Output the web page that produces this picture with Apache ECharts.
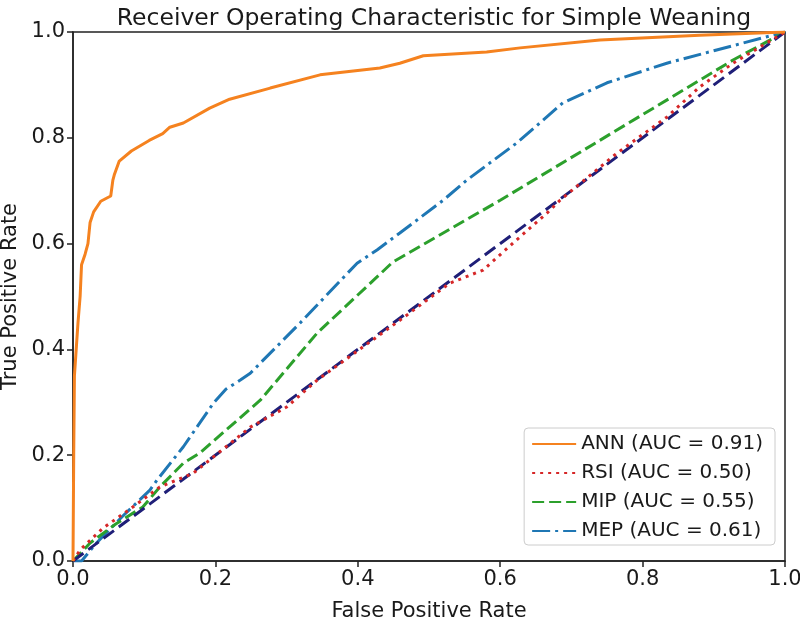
<!DOCTYPE html>
<html>
<head>
<meta charset="utf-8">
<script src="https://cdn.jsdelivr.net/npm/echarts@6/dist/echarts.min.js"></script>
<style>html,body{margin:0;padding:0;background:#fff}#c{width:800px;height:618px}</style>
</head>
<body>
<div id="c"></div>
<script>
var titleText = 'Receiver Operating Characteristic for Simple Weaning';
var xName = 'False Positive Rate';
var yName = 'True Positive Rate';
var seriesNames = ['ANN (AUC = 0.91)', 'RSI (AUC = 0.50)', 'MIP (AUC = 0.55)', 'MEP (AUC = 0.61)'];

var annPts = [[0,0],[0.001,0.2],[0.002,0.35],[0.004,0.39],[0.007,0.45],[0.01,0.50],[0.012,0.56],[0.017,0.58],[0.021,0.60],[0.024,0.64],[0.029,0.66],[0.039,0.68],[0.053,0.69],[0.056,0.72],[0.058,0.73],[0.065,0.756],[0.082,0.775],[0.107,0.795],[0.126,0.808],[0.136,0.82],[0.155,0.828],[0.192,0.856],[0.22,0.873],[0.277,0.894],[0.347,0.919],[0.431,0.932],[0.459,0.941],[0.492,0.955],[0.581,0.962],[0.628,0.97],[0.74,0.985],[0.88,0.994],[1,1]];
var rsiPts = [[0,0],[0.01,0.021],[0.042,0.062],[0.084,0.102],[0.122,0.14],[0.169,0.166],[0.249,0.253],[0.30,0.291],[0.343,0.342],[0.459,0.455],[0.529,0.525],[0.576,0.55],[0.618,0.601],[0.666,0.658],[0.684,0.682],[0.764,0.771],[0.834,0.839],[0.88,0.896],[0.927,0.941],[1,1]];
var mipPts = [[0,0],[0.024,0.034],[0.06,0.07],[0.098,0.102],[0.122,0.14],[0.155,0.185],[0.178,0.204],[0.263,0.304],[0.343,0.431],[0.427,0.537],[0.449,0.565],[0.6,0.682],[0.694,0.758],[0.815,0.856],[0.857,0.89],[0.927,0.947],[1,1]];
var mepPts = [[0,0],[0.012,0],[0.033,0.034],[0.07,0.085],[0.108,0.134],[0.118,0.153],[0.155,0.216],[0.197,0.298],[0.215,0.325],[0.235,0.342],[0.249,0.355],[0.319,0.45],[0.399,0.563],[0.427,0.588],[0.459,0.62],[0.52,0.682],[0.553,0.72],[0.623,0.79],[0.688,0.866],[0.75,0.904],[0.834,0.941],[0.904,0.966],[1,1]];
var chancePts = [[0,0],[1,1]];

var font = 'DejaVu Sans';
var chart = echarts.init(document.getElementById('c'), null, {renderer: 'canvas'});
function line(name, data, color, type, z) {
  return {
    name: name, type: 'line', data: data, showSymbol: false, symbol: 'none',
    lineStyle: {color: color, width: 3, type: type, cap: 'butt'},
    itemStyle: {color: color}, z: z, animation: false, smooth: false
  };
}
chart.setOption({
  animation: false,
  backgroundColor: '#fff',
  title: {
    text: titleText, left: 429, top: 2, textAlign: 'center',
    textStyle: {fontFamily: font, fontSize: 23.5, fontWeight: 'normal', color: '#1a1a1a'}
  },
  grid: {left: 73, right: 15, top: 32, bottom: 57, outerBoundsMode: 'none', containLabel: false,
         show: true, borderColor: '#222', borderWidth: 1.5, backgroundColor: 'transparent'},
  legend: {
    data: seriesNames, orient: 'vertical', right: 25, bottom: 73,
    itemWidth: 44, itemHeight: 14, itemGap: 9,
    padding: [6, 12, 4, 7],
    itemStyle: {opacity: 0, color: 'transparent', borderWidth: 0},
    backgroundColor: 'rgba(255,255,255,0.85)', borderColor: '#cccccc', borderWidth: 1, borderRadius: 4,
    textStyle: {fontFamily: font, fontSize: 20, color: '#1a1a1a'}
  },
  xAxis: {
    type: 'value', min: 0, max: 1, interval: 0.2,
    name: xName, nameLocation: 'middle', nameGap: 40,
    nameTextStyle: {fontFamily: font, fontSize: 21, color: '#1a1a1a'},
    axisLine: {show: true, lineStyle: {color: '#222', width: 1.5}},
    axisTick: {show: true, length: 6, lineStyle: {color: '#222', width: 1.5}},
    axisLabel: {fontFamily: font, fontSize: 21, color: '#1a1a1a', margin: 8, formatter: function(v){return v.toFixed(1);}},
    splitLine: {show: false}
  },
  yAxis: {
    type: 'value', min: 0, max: 1, interval: 0.2,
    name: yName, nameLocation: 'middle', nameGap: 48, nameRotate: 90,
    nameTextStyle: {fontFamily: font, fontSize: 21, color: '#1a1a1a'},
    axisLine: {show: true, lineStyle: {color: '#222', width: 1.5}},
    axisTick: {show: true, length: 6, lineStyle: {color: '#222', width: 1.5}},
    axisLabel: {fontFamily: font, fontSize: 21, color: '#1a1a1a', margin: 8, formatter: function(v){return v.toFixed(1);}},
    splitLine: {show: false}
  },
  series: [
    line(seriesNames[0], annPts, '#f5821f', 'solid', 5),
    line(seriesNames[1], rsiPts, '#d62728', [3, 5], 4),
    line(seriesNames[2], mipPts, '#2ca02c', [12, 5], 3),
    line(seriesNames[3], mepPts, '#1f77b4', [18, 5, 3, 5], 2),
    line('chance', chancePts, '#1f1f78', [13, 6], 3)
  ]
});
</script>
</body>
</html>
